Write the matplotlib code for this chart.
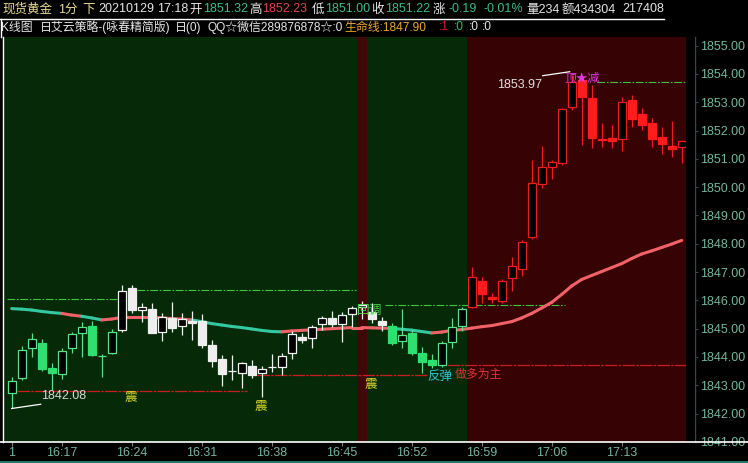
import matplotlib
matplotlib.use('Agg')
import matplotlib.pyplot as plt
from matplotlib.patches import Rectangle
from matplotlib.lines import Line2D
from matplotlib.collections import LineCollection
import numpy as np

plt.rcParams['font.family'] = ['Liberation Sans', 'Noto Sans CJK SC', 'DejaVu Sans']

# ---------------- data ----------------
opens = [1842.74, 1843.26, 1844.31, 1844.48, 1843.60, 1843.40, 1844.31, 1844.84, 1845.10, 1844.05,
         1844.15, 1844.95, 1846.43, 1845.66, 1845.69, 1844.89, 1845.37, 1845.11, 1845.28, 1845.28,
         1844.41, 1843.92, 1843.50, 1843.42, 1843.68, 1843.42, 1843.66, 1843.64, 1844.13, 1844.70,
         1844.66, 1845.16, 1845.37, 1845.16, 1845.51, 1845.76, 1845.60, 1845.26, 1845.10, 1844.55,
         1844.86, 1844.13, 1843.89, 1843.72, 1844.52, 1845.10, 1845.78, 1846.70, 1846.11, 1845.99,
         1846.78, 1847.10, 1848.23, 1850.11, 1850.72, 1850.87, 1852.82, 1853.78, 1853.14, 1851.72,
         1851.73, 1851.69, 1853.08, 1852.59, 1852.26, 1851.76, 1851.46, 1851.41]
highs = [1843.28, 1844.40, 1844.86, 1844.63, 1843.80, 1844.31, 1844.89, 1845.25, 1845.28, 1844.10,
         1844.99, 1846.54, 1846.54, 1845.92, 1845.92, 1845.54, 1845.93, 1845.54, 1845.63, 1845.52,
         1844.60, 1844.07, 1844.07, 1843.83, 1843.89, 1843.68, 1844.11, 1844.15, 1844.93, 1844.86,
         1845.13, 1845.45, 1845.63, 1845.60, 1845.80, 1845.99, 1845.90, 1845.42, 1845.21, 1845.69,
         1844.95, 1844.34, 1844.10, 1844.58, 1845.37, 1845.78, 1847.17, 1846.82, 1846.27, 1846.75,
         1847.54, 1848.15, 1850.96, 1851.45, 1850.95, 1852.79, 1853.97, 1853.90, 1853.61, 1852.26,
         1852.20, 1853.18, 1853.26, 1852.79, 1852.43, 1852.14, 1852.35, 1851.66]
lows = [1842.18, 1843.19, 1843.99, 1843.52, 1842.83, 1843.21, 1844.13, 1844.01, 1844.04, 1843.31,
        1844.12, 1844.87, 1845.54, 1845.25, 1844.84, 1844.57, 1844.89, 1844.78, 1844.60, 1844.33,
        1843.66, 1842.98, 1843.19, 1842.89, 1843.25, 1842.60, 1843.48, 1843.36, 1843.92, 1844.51,
        1844.33, 1844.95, 1845.07, 1844.54, 1845.07, 1845.33, 1845.19, 1844.93, 1844.42, 1844.31,
        1844.07, 1843.45, 1843.60, 1843.64, 1844.31, 1844.93, 1845.72, 1845.92, 1845.92, 1845.92,
        1846.33, 1846.86, 1848.16, 1849.96, 1850.28, 1850.80, 1852.73, 1851.50, 1851.37, 1851.41,
        1851.37, 1851.29, 1852.14, 1852.02, 1851.41, 1851.17, 1851.08, 1850.84]
closes = [1843.16, 1844.25, 1844.65, 1843.59, 1843.45, 1844.22, 1844.80, 1845.07, 1844.07, 1844.05,
          1844.89, 1846.34, 1845.66, 1845.76, 1844.86, 1845.42, 1845.03, 1845.33, 1845.21, 1844.42,
          1843.87, 1843.41, 1843.50, 1843.78, 1843.36, 1843.57, 1843.66, 1844.04, 1844.81, 1844.60,
          1845.05, 1845.37, 1845.16, 1845.48, 1845.72, 1845.83, 1845.33, 1845.13, 1844.48, 1844.77,
          1844.15, 1843.83, 1843.72, 1844.48, 1845.05, 1845.69, 1846.82, 1846.23, 1846.04, 1846.70,
          1847.23, 1848.08, 1850.14, 1850.70, 1850.88, 1852.75, 1853.73, 1853.20, 1851.73, 1851.67,
          1851.64, 1853.00, 1852.41, 1852.20, 1851.70, 1851.53, 1851.35, 1851.63]
# candle colour group: g = green, w = white, r = red
groups = ['g'] * 11 + ['w'] * 27 + ['g'] * 8 + ['r'] * 22

ma = [1845.71, 1845.69, 1845.66, 1845.61, 1845.57, 1845.54, 1845.48, 1845.44, 1845.38, 1845.31,
      1845.34, 1845.40, 1845.40, 1845.40, 1845.40, 1845.38, 1845.36, 1845.34, 1845.31, 1845.25,
      1845.18, 1845.13, 1845.08, 1845.04, 1844.99, 1844.94, 1844.90, 1844.89, 1844.92, 1844.94,
      1844.96, 1844.98, 1845.00, 1845.02, 1845.04, 1845.04, 1845.03, 1845.02, 1845.01, 1844.98,
      1844.95, 1844.90, 1844.85, 1844.88, 1844.94, 1844.97, 1845.02, 1845.07, 1845.11, 1845.18,
      1845.25, 1845.38, 1845.54, 1845.73, 1845.93, 1846.21, 1846.51, 1846.74, 1846.88, 1847.02,
      1847.16, 1847.30, 1847.48, 1847.64, 1847.75, 1847.87, 1847.99, 1848.12]
# 1 = red segment ending at that bar, 0 = teal
ma_red = ([0] * 6 + [1, 1] + [0, 0] + [1] * 9 + [0] * 9 + [1] * 11 + [0] * 4 + [1] * 25)

# horizontal signal lines: (price, start bar, end bar)
green_lines = [(1846.04, -0.5, 10.5), (1846.35, 12.5, 34.4), (1845.83, 37.3, 55.3), (1853.71, 58.5, 67.43)]
red_lines = [(1842.80, 0.5, 23.5), (1843.35, 24.5, 41.5), (1843.72, 43.5, 67.43)]

time_ticks = [0, 5, 12, 19, 26, 33, 40, 47, 54, 61]
time_labels = ['1', '16:17', '16:24', '16:31', '16:38', '16:45', '16:52', '16:59', '17:06', '17:13']
price_ticks = list(range(1841, 1856))

# ---------------- figure ----------------
W, H = 748, 463
fig = plt.figure(figsize=(W / 100, H / 100), dpi=100, facecolor='black')

def fx(px):
    return px / W

def fy(py):
    return 1 - py / H

ax = fig.add_axes([fx(3), fy(442), (695 - 3) / W, (442 - 37) / H])
ax.set_facecolor('black')
XMIN, XMAX = -0.87, 68.33
ax.set_xlim(XMIN, XMAX)
ax.set_ylim(1840.996, 1855.307)

GREEN_BG = '#062a08'
RED_BG = '#360203'
ax.axvspan(XMIN, 34.5, color=GREEN_BG, lw=0, zorder=0)
ax.axvspan(34.5, 35.5, color='#420608', lw=0, zorder=0)
ax.axvspan(35.5, 45.5, color=GREEN_BG, lw=0, zorder=0)
ax.axvspan(45.5, 67.43, color=RED_BG, lw=0, zorder=0)

# signal lines
for p, a, b in green_lines:
    ax.hlines(p, a, b, colors='#3ec43e', lw=0.8, linestyles=[(0, (7, 1.5, 1.5, 1.5))], zorder=1)
for p, a, b in red_lines:
    ax.hlines(p, a, b, colors='#c81e1e', lw=0.9, linestyles=[(0, (10, 1, 2, 1))], zorder=1)

# MA line
pts = np.column_stack([np.arange(len(ma)), ma])
segs = [pts[i - 1:i + 1] for i in range(1, len(ma))]
cols = ['#f06268' if ma_red[i] else '#34c8a0' for i in range(1, len(ma))]
lc = LineCollection(segs, colors=cols, linewidths=2.2, capstyle='round', zorder=2)
ax.add_collection(lc)

# candles
EDGE = {'g': '#5ee08a', 'w': '#f2f2f2', 'r': '#ea2020'}
FILL = {'g': '#2fe070', 'w': '#eeeeee', 'r': '#ff1c1c'}
BW = 0.8
for i, (o, h, l, c, g) in enumerate(zip(opens, highs, lows, closes, groups)):
    ec = EDGE[g]
    ax.vlines(i, l, h, colors=ec, lw=0.9, zorder=3)
    if abs(c - o) < 1e-9:
        ax.hlines(o, i - BW / 2, i + BW / 2, colors=ec, lw=0.9, zorder=4)
    elif c > o:
        ax.add_patch(Rectangle((i - BW / 2, o), BW, c - o, facecolor='black',
                               edgecolor=ec, lw=0.9, zorder=4))
    else:
        ax.add_patch(Rectangle((i - BW / 2, c), BW, o - c, facecolor=FILL[g],
                               edgecolor=FILL[g], lw=0.9, zorder=4))

# annotations
ax.plot([0, 2.9], [lows[0], 1842.33], color='white', lw=0.9, zorder=5)
ax.text(2.95, 1842.62, '1842.08', color='#d8d8d8', fontsize=9, va='center', ha='left', zorder=6)
ax.plot([53.1, 55.8], [1853.94, 1854.08], color='white', lw=0.9, zorder=5)
ax.text(48.5, 1853.61, '1853.97', color='#e0e0e0', fontsize=9, va='center', ha='left', zorder=6)
ax.text(57.0, 1853.84, '顶★减', color='#e238e2', fontsize=8.5, va='center', ha='center', zorder=6)
for xx, yy in [(11.93, 1842.58), (24.93, 1842.27), (35.93, 1843.05)]:
    ax.text(xx, yy, '震', color='#e2e024', fontsize=9, va='center', ha='center', zorder=6)
ax.text(35.85, 1845.62, '回调', color='#4cd44c', fontsize=9.2, va='center', ha='center', zorder=6)
ax.text(42.85, 1843.30, '反弹', color='#34c4d4', fontsize=9, va='center', ha='center', zorder=6)
ax.text(44.35, 1843.36, '做多为主', color='#e03434', fontsize=8.6, va='center', ha='left', zorder=6)

# black strip between plot background and price axis
ax.axvspan(67.43, XMAX, color='black', lw=0, zorder=7)

# axes styling
for s in ['top', 'left', 'bottom']:
    ax.spines[s].set_visible(False)
ax.spines['right'].set_color('#3c4452')
ax.spines['right'].set_linewidth(1)
ax.yaxis.tick_right()
ax.set_yticks(price_ticks)
ax.set_yticklabels([f'{v:.2f}' for v in price_ticks])
ax.tick_params(axis='y', colors='#3c4452', labelcolor='#72b89c', length=2.5, width=0.8,
               pad=1.5, labelsize=9)
ax.set_xticks(time_ticks)
ax.set_xticklabels(time_labels)
ax.tick_params(axis='x', colors='#808080', labelcolor='#78b4a0', length=3, width=0.8,
               pad=0.5, labelsize=9, direction='out')

# figure-level frame lines
fig.add_artist(Line2D([0, 1], [fy(442.3)] * 2, color='white', lw=1.2))
fig.add_artist(Line2D([fx(2.7)] * 2, [fy(37), fy(442)], color='white', lw=1))
fig.add_artist(Line2D([0, fx(664)], [fy(18.5)] * 2, color='white', lw=1))
fig.add_artist(Line2D([fx(0.6)] * 2, [fy(18.5), fy(37)], color='white', lw=1))
fig.add_artist(Line2D([0, 1], [fy(461.5)] * 2, color='#2a8c84', lw=1.2))

# header texts (chained so pieces never overlap)
YEL = '#e8dc94'
WH = '#e6e6e6'
GR = '#3cbc8c'
RD = '#e04848'
line1 = [("现货黄金", 2, YEL), ("1分", 58, YEL), ("下", 82, YEL), ("20210129", 98, WH),
         ("17:18", 157, WH), ("开", 185, WH), ("1851.32", 195, GR), ("高", 248, WH),
         ("1852.23", 258, RD), ("低", 312, WH), ("1851.00", 322, GR), ("收", 370, WH),
         ("1851.22", 381, GR), ("涨", 433, WH), ("-0.19", 449, GR), ("-0.01%", 484, GR),
         ("量234", 526, WH), ("额434304", 562, WH), ("217408", 622, WH)]
line2 = [("K线图", 1.5, WH), ("日艾云策略-(咏春精简版)", 40, WH), ("日(0)", 175, WH),
         ("QQ☆微信289876878☆:0", 208, WH), ("生命线:1847.90", 343, '#e8a82c'),
         (":1", 439, '#d82020'), (":0", 454, '#34c060'), (":0", 469, WH), (":0", 482, WH)]

renderer = fig.canvas.get_renderer()
for pieces, ypix, fsz in [(line1, 9.5, 9.0), (line2, 27.5, 8.6)]:
    prev_end = -1e9
    for t, x, c in pieces:
        xp = max(x, prev_end + 1)
        tx = fig.text(fx(xp), fy(ypix), t, color=c, fontsize=fsz, va='center', ha='left')
        bb = tx.get_window_extent(renderer=renderer)
        prev_end = bb.x1

fig.savefig('out.png', dpi=100, facecolor='black')
